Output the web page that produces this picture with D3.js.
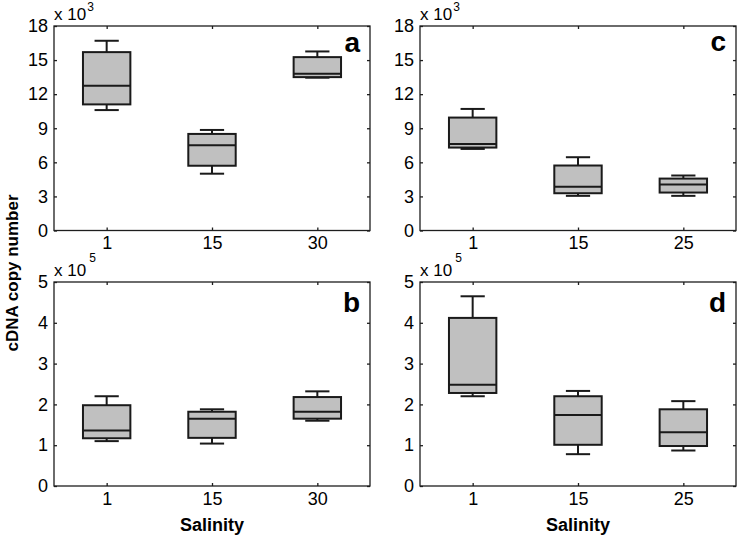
<!DOCTYPE html>
<html>
<head>
<meta charset="utf-8">
<script src="https://cdn.jsdelivr.net/npm/d3@7"></script>
<style>
  html, body { margin: 0; padding: 0; background: #fff; }
  svg { display: block; font-family: "Liberation Sans", Arial, sans-serif; }
</style>
</head>
<body>
<svg id="chart" width="742" height="538"></svg>
<script>
// ---- Data (values in axis units: panel a/c ×10^3, panel b/d ×10^5) ----
const salinityAB = ["1", "15", "30"];
const salinityCD = ["1", "15", "25"];

// Panel a (×10^3)
const aLow    = [10.6, 5.0, 13.45];
const aQ1     = [11.1, 5.7, 13.5];
const aMedian = [12.75, 7.5, 13.8];
const aQ3     = [15.7, 8.5, 15.26];
const aHigh   = [16.7, 8.85, 15.76];

// Panel c (×10^3)
const cLow    = [7.18, 3.05, 3.05];
const cQ1     = [7.3, 3.28, 3.34];
const cMedian = [7.62, 3.84, 4.05];
const cQ3     = [9.94, 5.72, 4.57];
const cHigh   = [10.7, 6.45, 4.84];

// Panel b (×10^5)
const bLow    = [1.10, 1.04, 1.60];
const bQ1     = [1.17, 1.18, 1.65];
const bMedian = [1.36, 1.65, 1.82];
const bQ3     = [1.98, 1.82, 2.18];
const bHigh   = [2.20, 1.88, 2.32];

// Panel d (×10^5)
const dLow    = [2.20, 0.78, 0.87];
const dQ1     = [2.28, 1.01, 0.98];
const dMedian = [2.48, 1.74, 1.32];
const dQ3     = [4.12, 2.20, 1.88];
const dHigh   = [4.65, 2.33, 2.08];

const ticksTop = [0, 3, 6, 9, 12, 15, 18];
const ticksBottom = [0, 1, 2, 3, 4, 5];

const yTitle = "cDNA copy number";
const xTitle = "Salinity";

// ---- Build panel records ----
function rows(cats, lo, q1, med, q3, hi) {
  return cats.map((c, i) => ({ cat: c, lo: lo[i], q1: q1[i], med: med[i], q3: q3[i], hi: hi[i] }));
}

const panels = [
  { letter: "a", exp: "3", cats: salinityAB, ymax: 18, ticks: ticksTop,
    data: rows(salinityAB, aLow, aQ1, aMedian, aQ3, aHigh),
    x0: 54, x1: 370, y0: 26, y1: 230.5, letterDy: 26, supDy: -9, supDx: 1, showX: false },
  { letter: "c", exp: "3", cats: salinityCD, ymax: 18, ticks: ticksTop,
    data: rows(salinityCD, cLow, cQ1, cMedian, cQ3, cHigh),
    x0: 420, x1: 736, y0: 26, y1: 230.5, letterDy: 25, supDy: -9, supDx: 1, showX: false },
  { letter: "b", exp: "5", cats: salinityAB, ymax: 5, ticks: ticksBottom,
    data: rows(salinityAB, bLow, bQ1, bMedian, bQ3, bHigh),
    x0: 54, x1: 370, y0: 282, y1: 486, letterDy: 30, supDy: -14, supDx: 3, showX: true },
  { letter: "d", exp: "5", cats: salinityCD, ymax: 5, ticks: ticksBottom,
    data: rows(salinityCD, dLow, dQ1, dMedian, dQ3, dHigh),
    x0: 420, x1: 736, y0: 282, y1: 486, letterDy: 30, supDy: -14, supDx: 3, showX: true }
];

const svg = d3.select("#chart");
const frameColor = "#1e1e1e";
const boxFill = "#c0c0c0";
const boxStroke = "#1a1a1a";

panels.forEach(p => {
  const g = svg.append("g");
  const x = d3.scalePoint().domain(p.cats).range([p.x0, p.x1]).padding(0.5);
  const y = d3.scaleLinear().domain([0, p.ymax]).range([p.y1, p.y0]);
  const step = x.step();
  const boxW = step * 0.45;
  const capW = step * 0.23;

  // Axes (inward ticks)
  const styleAxis = sel => {
    sel.select(".domain").remove();
    sel.selectAll(".tick line").attr("stroke", frameColor).attr("stroke-width", 1.3);
    sel.selectAll(".tick text").attr("fill", "#000").style("font-size", "18px")
      .style("font-family", '"Liberation Sans", Arial, sans-serif');
  };
  g.append("g").attr("transform", `translate(${p.x0},0)`)
    .call(d3.axisLeft(y).tickValues(p.ticks).tickFormat(d3.format("d")).tickSize(-3).tickPadding(6))
    .call(styleAxis);
  g.append("g").attr("transform", `translate(${p.x1},0)`)
    .call(d3.axisRight(y).tickValues(p.ticks).tickFormat("").tickSize(-3))
    .call(styleAxis);
  g.append("g").attr("transform", `translate(0,${p.y1})`)
    .call(d3.axisBottom(x).tickSize(-3).tickPadding(6))
    .call(styleAxis);
  g.append("g").attr("transform", `translate(0,${p.y0})`)
    .call(d3.axisTop(x).tickFormat("").tickSize(-3))
    .call(styleAxis);

  // Frame
  g.append("rect")
    .attr("x", p.x0).attr("y", p.y0)
    .attr("width", p.x1 - p.x0).attr("height", p.y1 - p.y0)
    .attr("fill", "none").attr("stroke", frameColor).attr("stroke-width", 1.3);

  // Boxes
  const bx = g.selectAll("g.box").data(p.data).join("g").attr("class", "box");
  bx.append("line")
    .attr("x1", d => x(d.cat)).attr("x2", d => x(d.cat))
    .attr("y1", d => y(d.hi)).attr("y2", d => y(d.q3))
    .attr("stroke", boxStroke).attr("stroke-width", 2);
  bx.append("line")
    .attr("x1", d => x(d.cat)).attr("x2", d => x(d.cat))
    .attr("y1", d => y(d.q1)).attr("y2", d => y(d.lo))
    .attr("stroke", boxStroke).attr("stroke-width", 2);
  bx.append("line")
    .attr("x1", d => x(d.cat) - capW / 2).attr("x2", d => x(d.cat) + capW / 2)
    .attr("y1", d => y(d.hi)).attr("y2", d => y(d.hi))
    .attr("stroke", boxStroke).attr("stroke-width", 2);
  bx.append("line")
    .attr("x1", d => x(d.cat) - capW / 2).attr("x2", d => x(d.cat) + capW / 2)
    .attr("y1", d => y(d.lo)).attr("y2", d => y(d.lo))
    .attr("stroke", boxStroke).attr("stroke-width", 2);
  bx.append("rect")
    .attr("x", d => x(d.cat) - boxW / 2).attr("width", boxW)
    .attr("y", d => y(d.q3)).attr("height", d => y(d.q1) - y(d.q3))
    .attr("fill", boxFill).attr("stroke", boxStroke).attr("stroke-width", 2);
  bx.append("line")
    .attr("x1", d => x(d.cat) - boxW / 2).attr("x2", d => x(d.cat) + boxW / 2)
    .attr("y1", d => y(d.med)).attr("y2", d => y(d.med))
    .attr("stroke", boxStroke).attr("stroke-width", 2);

  // Exponent label
  const ex = g.append("text").attr("x", p.x0).attr("y", p.y0 - 6)
    .style("font-size", "17px").attr("fill", "#000").text("x 10");
  ex.append("tspan").attr("dx", p.supDx).attr("dy", p.supDy).style("font-size", "12px").text(p.exp);

  // Panel letter
  g.append("text").attr("x", p.x1 - 10).attr("y", p.y0 + p.letterDy)
    .attr("text-anchor", "end").style("font-size", "28px").style("font-weight", "bold")
    .attr("fill", "#000").text(p.letter);

  if (p.showX) {
    g.append("text").attr("x", (p.x0 + p.x1) / 2).attr("y", 531)
      .attr("text-anchor", "middle").style("font-size", "18px").style("font-weight", "bold")
      .attr("fill", "#000").text(xTitle);
  }
});

svg.append("text")
  .attr("transform", "translate(18,273) rotate(-90)")
  .attr("text-anchor", "middle").style("font-size", "17px").style("font-weight", "bold")
  .attr("fill", "#000").text(yTitle);
</script>
</body>
</html>
